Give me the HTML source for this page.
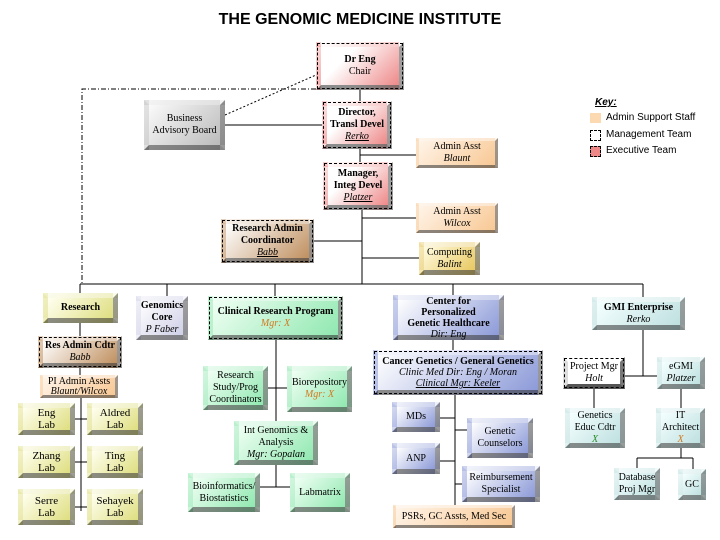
<!DOCTYPE html>
<html><head><meta charset="utf-8"><style>
body{margin:0;width:720px;height:540px;background:#fff;position:relative;overflow:hidden;font-family:"Liberation Serif",serif;}
.t{position:absolute;left:0;width:720px;top:11px;text-align:center;font:bold 16px "Liberation Sans",sans-serif;}
.b{position:absolute;box-sizing:border-box;border:5px solid;border-color:rgba(255,255,255,.55) rgba(0,0,0,.38) rgba(0,0,0,.45) rgba(255,255,255,.35);display:flex;align-items:center;justify-content:center;text-align:center;font-size:10px;line-height:12px;color:#000;padding:0;}
.d::after{content:"";position:absolute;left:-4px;top:-4px;right:-4px;bottom:-4px;border:1.5px dashed #000;}
i{font-style:italic}
.o{color:#d07a20}.g{color:#2a8a2a}
.ex{background:linear-gradient(135deg,#fff 30%,#e88 100%);}
.gr{background:linear-gradient(135deg,#fafafa,#bbb);}
.ye{background:linear-gradient(135deg,#fffff0,#dede80);}
.gn{background:linear-gradient(135deg,#f0fff4,#90e8b0);}
.bl{background:linear-gradient(135deg,#fff,#8c9ad8);}
.te{background:linear-gradient(135deg,#f4ffff,#bfe0e0);}
.pe{background:linear-gradient(135deg,#fff4e8,#f8c894);border-width:3px;}
.la{background:linear-gradient(135deg,#fff,#cfcfe8);}
.ta{background:linear-gradient(135deg,#fff,#c09060);}
.go{background:linear-gradient(135deg,#fffbe0,#e8c860);}
.wh{background:#fff;}
.k{position:absolute;font:10px "Liberation Sans",sans-serif;}
</style></head><body>
<div class="t">THE GENOMIC MEDICINE INSTITUTE</div>
<svg width="720" height="540" style="position:absolute;left:0;top:0" stroke="#000" stroke-width="1" fill="none">
<line x1="360" y1="90" x2="360" y2="162"/>
<line x1="225" y1="125" x2="322" y2="125"/>
<line x1="360" y1="155" x2="416" y2="155"/>
<line x1="362" y1="210" x2="362" y2="284"/>
<line x1="362" y1="218" x2="416" y2="218"/>
<line x1="314" y1="241" x2="362" y2="241"/>
<line x1="362" y1="258" x2="419" y2="258"/>
<line x1="80" y1="284" x2="643" y2="284"/>
<line x1="80" y1="284" x2="80" y2="293"/>
<line x1="167" y1="284" x2="167" y2="296"/>
<line x1="275" y1="284" x2="275" y2="296"/>
<line x1="453" y1="284" x2="453" y2="295"/>
<line x1="643" y1="284" x2="643" y2="297"/>
<line x1="225" y1="115" x2="316" y2="75" stroke-dasharray="2,2"/>
<polyline points="316,89 82,89 82,284" stroke-dasharray="5,2,1,2"/>
<line x1="80" y1="323" x2="80" y2="375"/>
<line x1="81" y1="398" x2="81" y2="511"/>
<line x1="75" y1="419" x2="87" y2="419"/><line x1="75" y1="462" x2="87" y2="462"/><line x1="75" y1="507" x2="87" y2="507"/>
<line x1="276" y1="340" x2="276" y2="421"/>
<line x1="268" y1="388" x2="287" y2="388"/>
<line x1="276" y1="465" x2="276" y2="487"/>
<line x1="260" y1="487" x2="290" y2="487"/>
<line x1="453" y1="340" x2="453" y2="350"/>
<line x1="455" y1="395" x2="455" y2="505"/>
<line x1="440" y1="418" x2="455" y2="418"/><line x1="440" y1="461" x2="455" y2="461"/>
<line x1="455" y1="430" x2="467" y2="430"/><line x1="455" y1="484" x2="462" y2="484"/>
<line x1="643" y1="330" x2="643" y2="376"/>
<line x1="625" y1="376" x2="657" y2="376"/>
<line x1="594" y1="389" x2="594" y2="408"/>
<line x1="681" y1="389" x2="681" y2="408"/>
<line x1="681" y1="448" x2="681" y2="458"/>
<line x1="637" y1="458" x2="693" y2="458"/>
<line x1="637" y1="458" x2="637" y2="468"/><line x1="693" y1="458" x2="693" y2="469"/>
</svg>
<div class="b ex d" style="left:316px;top:42px;width:88px;height:48px"><div><b>Dr Eng</b><br>Chair</div></div>
<div class="b gr" style="left:144px;top:100px;width:81px;height:50px"><div>Business<br>Advisory Board</div></div>
<div class="b ex d" style="left:322px;top:101px;width:70px;height:48px"><div><b>Director,<br>Transl Devel</b><br><i><u>Rerko</u></i></div></div>
<div class="b pe" style="left:416px;top:138px;width:82px;height:30px"><div>Admin Asst<br><i>Blaunt</i></div></div>
<div class="b ex d" style="left:323px;top:162px;width:70px;height:48px"><div><b>Manager,<br>Integ Devel</b><br><i><u>Platzer</u></i></div></div>
<div class="b pe" style="left:416px;top:203px;width:82px;height:30px"><div>Admin Asst<br><i>Wilcox</i></div></div>
<div class="b ta d" style="left:221px;top:219px;width:93px;height:44px"><div><b>Research Admin<br>Coordinator</b><br><i><u>Babb</u></i></div></div>
<div class="b go" style="left:419px;top:242px;width:61px;height:33px"><div>Computing<br><i>Balint</i></div></div>
<div class="k" style="left:595px;top:97px;font-style:italic;font-weight:bold;text-decoration:underline">Key:</div>
<div style="position:absolute;left:590px;top:113px;width:11px;height:10px;background:#fcd9b0"></div>
<div class="k" style="left:606px;top:112px">Admin Support Staff</div>
<div style="position:absolute;left:590px;top:130px;width:9px;height:9px;border:1px dashed #000"></div>
<div class="k" style="left:606px;top:129px">Management Team</div>
<div style="position:absolute;left:590px;top:146px;width:9px;height:9px;border:1px dashed #000;background:#e88"></div>
<div class="k" style="left:606px;top:145px">Executive Team</div>
<div class="b ye" style="left:43px;top:293px;width:75px;height:30px"><div><b>Research</b></div></div>
<div class="b la" style="left:136px;top:296px;width:52px;height:44px"><div><b>Genomics<br>Core</b><br><i>P Faber</i></div></div>
<div class="b gn d" style="left:208px;top:296px;width:135px;height:44px"><div><b>Clinical Research Program</b><br><i class="o">Mgr: X</i></div></div>
<div class="b bl" style="left:393px;top:295px;width:111px;height:45px;line-height:11px"><div><b>Center for Personalized<br>Genetic Healthcare</b><br><i>Dir: Eng</i></div></div>
<div class="b te" style="left:592px;top:297px;width:93px;height:33px"><div><b>GMI Enterprise</b><br><i>Rerko</i></div></div>
<div class="b ta d" style="left:38px;top:336px;width:84px;height:32px"><div><b>Res Admin Cdtr</b><br><i>Babb</i></div></div>
<div class="b pe" style="left:40px;top:375px;width:78px;height:23px;line-height:10px"><div>PI Admin Assts<br><i>Blaunt/Wilcox</i></div></div>
<div class="b ye" style="left:18px;top:403px;width:57px;height:32px;font-size:11px"><div>Eng<br>Lab</div></div>
<div class="b ye" style="left:87px;top:403px;width:56px;height:32px;font-size:11px"><div>Aldred<br>Lab</div></div>
<div class="b ye" style="left:18px;top:446px;width:57px;height:32px;font-size:11px"><div>Zhang<br>Lab</div></div>
<div class="b ye" style="left:87px;top:446px;width:56px;height:32px;font-size:11px"><div>Ting<br>Lab</div></div>
<div class="b ye" style="left:18px;top:489px;width:57px;height:36px;font-size:11px"><div>Serre<br>Lab</div></div>
<div class="b ye" style="left:87px;top:489px;width:56px;height:36px;font-size:11px"><div>Sehayek<br>Lab</div></div>
<div class="b gn" style="left:203px;top:366px;width:65px;height:44px"><div>Research<br>Study/Prog<br>Coordinators</div></div>
<div class="b gn" style="left:287px;top:366px;width:65px;height:46px"><div>Biorepository<br><i class="o">Mgr: X</i></div></div>
<div class="b gn" style="left:234px;top:421px;width:84px;height:44px"><div>Int Genomics &amp;<br>Analysis<br><i>Mgr: Gopalan</i></div></div>
<div class="b gn" style="left:188px;top:473px;width:72px;height:39px"><div>Bioinformatics/<br>Biostatistics</div></div>
<div class="b gn" style="left:290px;top:473px;width:60px;height:39px"><div>Labmatrix</div></div>
<div class="b bl d" style="left:373px;top:350px;width:170px;height:45px;line-height:11px"><div><b>Cancer Genetics / General Genetics</b><br><i>Clinic Med Dir: Eng / Moran</i><br><i><u>Clinical Mgr: Keeler</u></i></div></div>
<div class="b bl" style="left:392px;top:402px;width:48px;height:30px"><div>MDs</div></div>
<div class="b bl" style="left:392px;top:443px;width:48px;height:31px"><div>ANP</div></div>
<div class="b bl" style="left:467px;top:418px;width:66px;height:40px"><div>Genetic<br>Counselors</div></div>
<div class="b bl" style="left:462px;top:466px;width:78px;height:36px"><div>Reimbursement<br>Specialist</div></div>
<div class="b pe" style="left:393px;top:505px;width:122px;height:23px"><div>PSRs, GC Assts, Med Sec</div></div>
<div class="b wh d" style="left:563px;top:357px;width:62px;height:32px;border-color:#fff #777 #555 #ddd"><div>Project Mgr<br><i>Holt</i></div></div>
<div class="b te" style="left:657px;top:357px;width:48px;height:32px"><div>eGMI<br><i>Platzer</i></div></div>
<div class="b te" style="left:565px;top:408px;width:60px;height:40px"><div>Genetics<br>Educ Cdtr<br><i class="g">X</i></div></div>
<div class="b te" style="left:656px;top:408px;width:49px;height:40px"><div>IT<br>Architect<br><i class="o">X</i></div></div>
<div class="b te" style="left:614px;top:468px;width:46px;height:32px"><div>Database<br>Proj Mgr</div></div>
<div class="b te" style="left:678px;top:469px;width:28px;height:31px"><div>GC</div></div>
</body></html>
